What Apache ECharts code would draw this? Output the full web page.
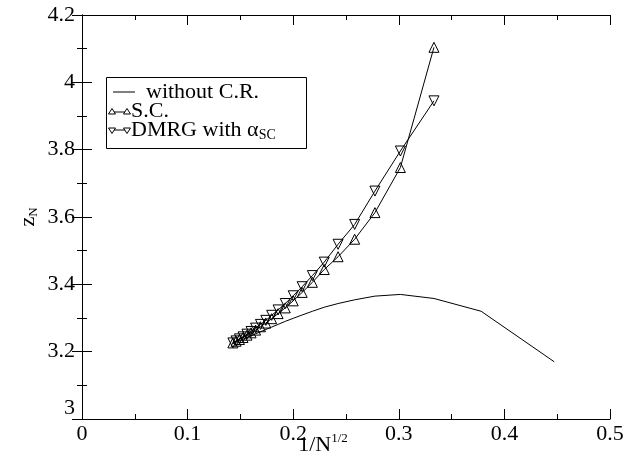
<!DOCTYPE html>
<html>
<head>
<meta charset="utf-8">
<script src="https://cdn.jsdelivr.net/npm/echarts@6/dist/echarts.min.js"></script>
<style>
  html, body { margin: 0; padding: 0; background: #fff; }
  #chart { width: 641px; height: 457px; }
</style>
</head>
<body>
<div id="chart"></div>
<script>
// x = 1/N^(1/2), N = 49, 47, ... 11, 9, 7, 5
const xVals = [0.1429, 0.1459, 0.1491, 0.1525, 0.1562, 0.1601, 0.1644, 0.1690, 0.1741, 0.1796,
  0.1857, 0.1925, 0.2000, 0.2085, 0.2182, 0.2294, 0.2425, 0.2582, 0.2774, 0.3015,
  0.3333, 0.3780, 0.4472];
const withoutCR = [3.224, 3.228, 3.232, 3.237, 3.242, 3.247, 3.253, 3.259, 3.266, 3.273,
  3.281, 3.290, 3.299, 3.309, 3.320, 3.332, 3.343, 3.354, 3.365, 3.370,
  3.358, 3.320, 3.170];
const sc = [3.226, 3.231, 3.236, 3.242, 3.249, 3.256, 3.264, 3.274, 3.285, 3.298,
  3.313, 3.330, 3.351, 3.376, 3.406, 3.444, 3.482, 3.534, 3.613, 3.747,
  4.104];
const dmrg = [3.226, 3.232, 3.238, 3.244, 3.252, 3.260, 3.270, 3.281, 3.293, 3.308,
  3.324, 3.343, 3.366, 3.393, 3.426, 3.466, 3.519, 3.578, 3.677, 3.796,
  3.945];

const font = 'Liberation Serif';

function pairs(ys) {
  return ys.map((y, i) => [xVals[i], y]);
}

const chart = echarts.init(document.getElementById('chart'));

const tickCommon = {
  axisLine: { show: true, lineStyle: { color: '#000', width: 1 } },
  axisTick: { show: true, inside: true, length: 10, lineStyle: { color: '#000', width: 1 } },
  minorTick: { show: true, splitNumber: 2, length: 5, lineStyle: { color: '#000', width: 1 } },
  splitLine: { show: false }
};

const xBase = { type: 'value', min: 0, max: 0.5, interval: 0.1 };
const yBase = { type: 'value', min: 3, max: 4.2, interval: 0.2 };

const markerStyle = { color: 'transparent', borderColor: '#000', borderWidth: 1 };

chart.setOption({
  backgroundColor: '#fff',
  animation: false,
  grid: { left: 82, right: 31, top: 15, bottom: 38, containLabel: false, outerBoundsMode: 'none' },
  xAxis: [
    Object.assign({}, xBase, tickCommon, {
      position: 'bottom',
      name: '{a|1/N}{b|1/2}',
      nameLocation: 'middle',
      nameGap: 13,
      nameMoveOverlap: false,
      nameTextStyle: {
        padding: [0, 46, 0, 0],
        rich: {
          a: { fontFamily: font, fontSize: 22, color: '#000' },
          b: { fontFamily: font, fontSize: 13, color: '#000', padding: [0, 0, 14, 0] }
        }
      },
      axisLabel: { fontFamily: font, fontSize: 22, color: '#000', margin: 4,
        formatter: v => String(+v.toFixed(2)) }
    }),
    Object.assign({}, xBase, tickCommon, {
      position: 'top',
      axisLabel: { show: false }
    })
  ],
  yAxis: [
    Object.assign({}, yBase, tickCommon, {
      position: 'left',
      name: '{a|z}{b|N}',
      nameLocation: 'middle',
      nameRotate: 90,
      nameGap: 42,
      nameMoveOverlap: false,
      nameTextStyle: {
        rich: {
          a: { fontFamily: font, fontSize: 22, color: '#000' },
          b: { fontFamily: font, fontSize: 13, color: '#000', padding: [10, 0, 0, 0] }
        }
      },
      axisLabel: { fontFamily: font, fontSize: 22, color: '#000', margin: 7,
        verticalAlignMinLabel: 'bottom',
        formatter: v => String(+v.toFixed(1)) }
    }),
    Object.assign({}, yBase, tickCommon, {
      position: 'right',
      axisLabel: { show: false }
    })
  ],
  series: [
    {
      name: 'without C.R.',
      type: 'line',
      data: pairs(withoutCR),
      showSymbol: false,
      symbol: 'none',
      lineStyle: { color: '#000', width: 1 }
    },
    {
      name: 'S.C.',
      type: 'line',
      data: pairs(sc),
      symbol: 'triangle',
      symbolSize: 10,
      itemStyle: markerStyle,
      lineStyle: { color: '#000', width: 1 }
    },
    {
      name: 'DMRG with αSC',
      type: 'line',
      data: pairs(dmrg),
      symbol: 'triangle',
      symbolSize: 10,
      symbolRotate: 180,
      itemStyle: markerStyle,
      lineStyle: { color: '#000', width: 1 }
    }
  ],
  graphic: [
    // legend box
    { type: 'rect', shape: { x: 106.5, y: 77.5, width: 200, height: 71 },
      style: { fill: '#fff', stroke: '#000', lineWidth: 1 }, z: 10 },
    { type: 'line', shape: { x1: 113, y1: 92, x2: 135, y2: 92 },
      style: { stroke: '#000', lineWidth: 1 }, z: 11 },
    { type: 'text', x: 146, y: 92, z: 11,
      style: { text: 'without C.R.', fontFamily: font, fontSize: 22, fill: '#000', verticalAlign: 'middle' } },
    { type: 'line', shape: { x1: 112, y1: 112, x2: 127, y2: 112 },
      style: { stroke: '#000', lineWidth: 1 }, z: 11 },
    { type: 'polygon', shape: { points: [[112, 108.5], [108.5, 114], [115.5, 114]] },
      style: { fill: '#fff', stroke: '#000', lineWidth: 1 }, z: 12 },
    { type: 'polygon', shape: { points: [[127, 108.5], [123.5, 114], [130.5, 114]] },
      style: { fill: '#fff', stroke: '#000', lineWidth: 1 }, z: 12 },
    { type: 'text', x: 131, y: 111, z: 11,
      style: { text: 'S.C.', fontFamily: font, fontSize: 22, fill: '#000', verticalAlign: 'middle' } },
    { type: 'line', shape: { x1: 112, y1: 130, x2: 127, y2: 130 },
      style: { stroke: '#000', lineWidth: 1 }, z: 11 },
    { type: 'polygon', shape: { points: [[112, 133.5], [108.5, 128], [115.5, 128]] },
      style: { fill: '#fff', stroke: '#000', lineWidth: 1 }, z: 12 },
    { type: 'polygon', shape: { points: [[127, 133.5], [123.5, 128], [130.5, 128]] },
      style: { fill: '#fff', stroke: '#000', lineWidth: 1 }, z: 12 },
    { type: 'text', x: 131, y: 130, z: 11,
      style: {
        text: '{a|DMRG with α}{b|SC}',
        verticalAlign: 'middle',
        rich: {
          a: { fontFamily: font, fontSize: 22, fill: '#000' },
          b: { fontFamily: font, fontSize: 14, fill: '#000', padding: [10, 0, 0, 0] }
        }
      } }
  ]
});
</script>
</body>
</html>
